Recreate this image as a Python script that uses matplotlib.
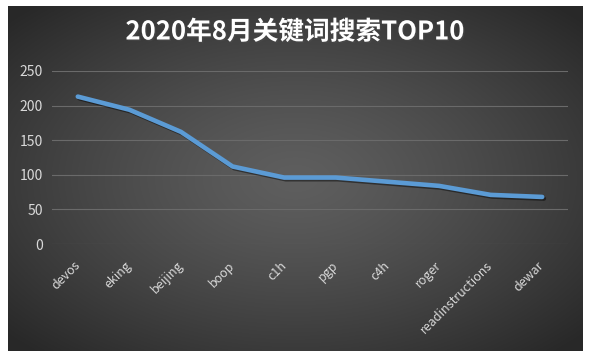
"""2020年8月关键词搜索TOP10 折线图"""

import matplotlib
matplotlib.use("Agg")
import matplotlib.pyplot as plt
import matplotlib.patheffects as pe
import numpy as np

plt.rcParams["font.family"] = ["Noto Sans CJK SC", "DejaVu Sans"]
plt.rcParams["axes.unicode_minus"] = False

# 数据
keywords = ["devos", "eking", "beijing", "boop", "c1h", "pgp", "c4h",
            "roger", "readinstructions", "dewar"]
counts = [213, 194, 162, 112, 96, 96, 90, 84, 71, 68]
yticks = [0, 50, 100, 150, 200, 250]

W, H = 590, 357
LINE = "#5b9bd5"
TEXT = "#d9d9d9"
GRID = "#6a6a6a"

fig = plt.figure(figsize=(W / 100, H / 100), dpi=100)
fig.patch.set_facecolor("white")

# 背景：径向渐变
bx0, by0, bx1, by1 = 8, 6, 583, 351
bg = fig.add_axes([bx0 / W, 1 - by1 / H, (bx1 - bx0) / W, (by1 - by0) / H])
gx, gy = np.meshgrid(np.linspace(-1, 1, 400), np.linspace(-1, 1, 240))
r = np.clip(np.sqrt(gx ** 2 + gy ** 2) / 1.35, 0, 1)
shade = 0.37 - 0.21 * r ** 1.3
bg.imshow(np.dstack([shade] * 3), aspect="auto", extent=(0, 1, 0, 1))
bg.set_axis_off()

# 主图
px0, px1, py_top, py_bot = 52, 568, 71, 244
ax = fig.add_axes([px0 / W, 1 - py_bot / H, (px1 - px0) / W, (py_bot - py_top) / H])
ax.patch.set_alpha(0)

x = np.arange(len(keywords))
ax.plot(x, counts, color=LINE, linewidth=3.3, solid_joinstyle="round",
        solid_capstyle="round", zorder=3,
        path_effects=[pe.SimpleLineShadow(offset=(1.2, -1.2), shadow_color="black", alpha=0.45),
                      pe.Normal()])

ax.set_xlim(-0.5, len(keywords) - 0.5)
ax.set_ylim(0, 250)
ax.set_yticks(yticks)
ax.set_xticks(x)
ax.set_xticklabels(keywords, rotation=45, ha="right", va="center",
                   rotation_mode="anchor")
ax.grid(True, axis="y", color=GRID, linewidth=0.8)
ax.set_axisbelow(True)
for s in ax.spines.values():
    s.set_visible(False)
ax.tick_params(axis="y", length=0, pad=6.5, labelsize=10, colors=TEXT)
ax.tick_params(axis="x", length=0, pad=14, labelsize=9, colors=TEXT)

fig.text(295 / W, 1 - 32 / H, "2020年8月关键词搜索TOP10", ha="center", va="center",
         fontsize=18.5, fontweight="bold", color="white",
         path_effects=[pe.withSimplePatchShadow(offset=(1, -1), alpha=0.5)])

fig.savefig("out.png", dpi=100, facecolor="white")
